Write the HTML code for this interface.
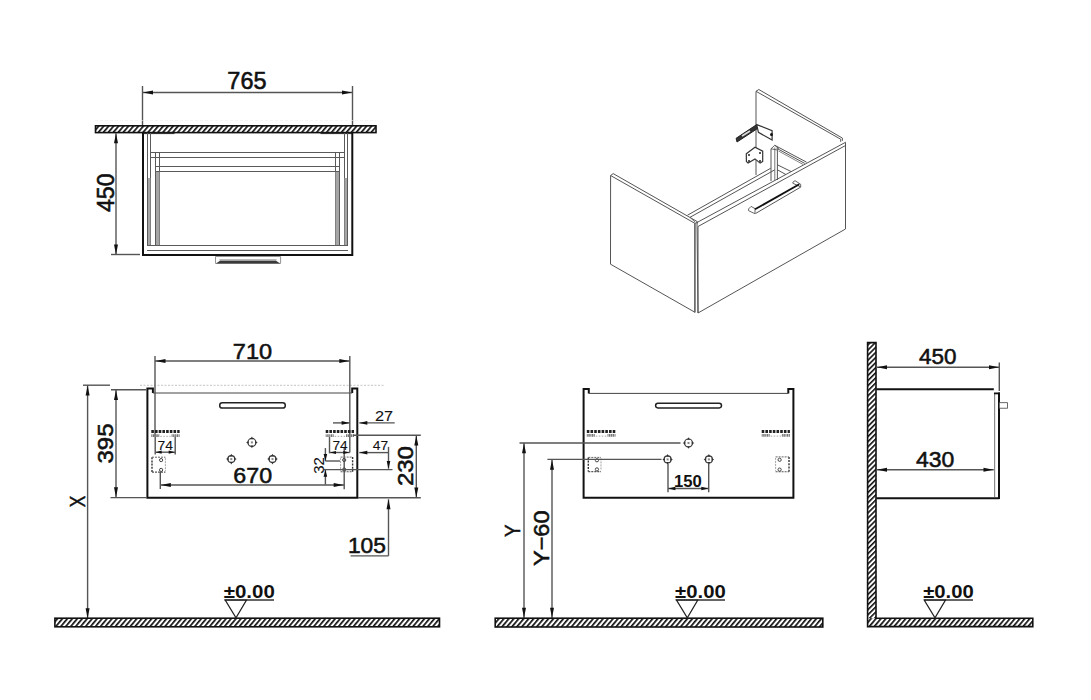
<!DOCTYPE html>
<html><head><meta charset="utf-8"><style>
html,body{margin:0;padding:0;background:#fff;width:1091px;height:700px;overflow:hidden}
svg{display:block;font-family:"Liberation Sans",sans-serif}
</style></head><body>
<svg width="1091" height="700" viewBox="0 0 1091 700">
<defs>
<pattern id="hatchH" patternUnits="userSpaceOnUse" width="3.8" height="8" patternTransform="rotate(40)">
<rect width="3.9" height="8" fill="#fff"/><rect x="0" y="0" width="1.7" height="8" fill="#111"/>
</pattern>
<pattern id="hatchV" patternUnits="userSpaceOnUse" width="3.6" height="8" patternTransform="rotate(45)">
<rect width="3.6" height="8" fill="#fff"/><rect x="0" y="0" width="1.6" height="8" fill="#111"/>
</pattern>
</defs>
<rect width="1091" height="700" fill="#fff"/>
<line x1="142.5" y1="86" x2="142.5" y2="126" stroke="#555" stroke-width="1.4" />
<line x1="352.5" y1="86" x2="352.5" y2="126" stroke="#555" stroke-width="1.4" />
<line x1="142.5" y1="92.5" x2="352.5" y2="92.5" stroke="#555" stroke-width="1.4" />
<polygon points="143,92.5 153,90.5 153,94.5" fill="#111" stroke="none"/>
<polygon points="352,92.5 342,90.5 342,94.5" fill="#111" stroke="none"/>
<text x="246.89999999999998" y="89.19999999999999" font-size="23" text-anchor="middle" font-weight="normal" fill="#111" stroke="#111" stroke-width="0.58" textLength="39.07" lengthAdjust="spacingAndGlyphs" >765</text>
<line x1="95" y1="120.5" x2="376" y2="120.5" stroke="#eee" stroke-width="0.6" stroke-dasharray="3 2"/>
<rect x="95.5" y="125.8" width="280.5" height="6.8" stroke="#111" stroke-width="1.6" fill="url(#hatchH)" />
<line x1="143.5" y1="133.5" x2="174.5" y2="133.5" stroke="#333" stroke-width="1.2" />
<line x1="320.5" y1="133.5" x2="352" y2="133.5" stroke="#333" stroke-width="1.2" />
<line x1="111" y1="254.5" x2="140" y2="254.5" stroke="#555" stroke-width="1.4" />
<line x1="116" y1="133" x2="116" y2="254.5" stroke="#555" stroke-width="1.4" />
<polygon points="116,133.2 114.0,143.2 118.0,143.2" fill="#111" stroke="none"/>
<polygon points="116,254.4 114.0,244.4 118.0,244.4" fill="#111" stroke="none"/>
<text x="113.5" y="192.75" font-size="23" text-anchor="middle" font-weight="normal" fill="#111" stroke="#111" stroke-width="0.58" transform="rotate(-90 113.5 192.75)" textLength="38.58" lengthAdjust="spacingAndGlyphs" >450</text>
<polygon points="215.5,256.5 280.6,256.5 280.6,263.4 215.5,263.4" stroke="#888" stroke-width="0.9" fill="#fff" />
<rect x="219.5" y="259" width="57" height="1.8" stroke="none" stroke-width="0" fill="#bbb" />
<polygon points="216,263.4 220,260.8 276,260.8 280.2,263.4" stroke="none" stroke-width="0" fill="#3a3a3a" />
<line x1="147.5" y1="133" x2="147.5" y2="246" stroke="#5a5a5a" stroke-width="1.0" />
<line x1="347.5" y1="133" x2="347.5" y2="246" stroke="#5a5a5a" stroke-width="1.0" />
<line x1="150.5" y1="133" x2="150.5" y2="246" stroke="#5a5a5a" stroke-width="1.0" />
<line x1="344.5" y1="133" x2="344.5" y2="246" stroke="#5a5a5a" stroke-width="1.0" />
<line x1="155.5" y1="152" x2="155.5" y2="246" stroke="#5a5a5a" stroke-width="1.0" />
<line x1="339.5" y1="152" x2="339.5" y2="246" stroke="#5a5a5a" stroke-width="1.0" />
<line x1="159.5" y1="152" x2="159.5" y2="246" stroke="#5a5a5a" stroke-width="1.0" />
<line x1="335.5" y1="152" x2="335.5" y2="246" stroke="#5a5a5a" stroke-width="1.0" />
<rect x="148" y="178" width="2.5" height="68" stroke="none" stroke-width="0" fill="#a5a5a5" />
<rect x="344.5" y="178" width="2.5" height="68" stroke="none" stroke-width="0" fill="#a5a5a5" />
<rect x="156" y="171" width="3.5" height="75" stroke="none" stroke-width="0" fill="#a5a5a5" />
<rect x="335.5" y="171" width="3.5" height="75" stroke="none" stroke-width="0" fill="#a5a5a5" />
<line x1="150.5" y1="152.5" x2="344.5" y2="152.5" stroke="#5a5a5a" stroke-width="1.1" />
<line x1="150.5" y1="157.5" x2="344.5" y2="157.5" stroke="#5a5a5a" stroke-width="1.1" />
<line x1="155.5" y1="166.5" x2="339.5" y2="166.5" stroke="#5a5a5a" stroke-width="1.1" />
<line x1="155.5" y1="171.5" x2="339.5" y2="171.5" stroke="#5a5a5a" stroke-width="1.1" />
<line x1="147" y1="245.5" x2="348" y2="245.5" stroke="#5a5a5a" stroke-width="1.1" />
<line x1="147" y1="250.5" x2="348" y2="250.5" stroke="#5a5a5a" stroke-width="1.1" />
<polyline points="143,132.5 143,255 352.3,255 352.3,132.5" stroke="#111" stroke-width="2.0" fill="none" />
<polygon points="610.6,175.5 695,223.4 695,312.3 610.5,264.2" stroke="#555" stroke-width="1.0" fill="#fff" />
<polyline points="610.6,175.5 613.2,173.6 697.4,221.7 697.4,223.4" stroke="#555" stroke-width="1.0" fill="none" />
<polyline points="756,175 756,91.3 840.7,139.2 840.7,141.8" stroke="#555" stroke-width="1.0" fill="none" />
<polyline points="756,91.3 758.8,89.5 842.4,138.1 842.4,140.8" stroke="#555" stroke-width="1.0" fill="none" />
<polyline points="687.5,215.2 770.8,168.2" stroke="#555" stroke-width="1.0" fill="none" />
<polyline points="690,217.3 774.8,169.8" stroke="#555" stroke-width="1.0" fill="none" />
<polyline points="695,222 690,217.3" stroke="#555" stroke-width="0.8" fill="none" />
<line x1="771" y1="148.8" x2="771" y2="181" stroke="#555" stroke-width="1.0" />
<line x1="774.8" y1="147.5" x2="774.8" y2="180.5" stroke="#666" stroke-width="0.9" />
<line x1="777.4" y1="150" x2="777.4" y2="180" stroke="#555" stroke-width="1.0" />
<polyline points="771,148.8 774.8,145.3 778.5,148.3 777.4,150 771,148.8" stroke="#555" stroke-width="0.9" fill="none" />
<polyline points="774.8,145.3 806.6,162.2" stroke="#555" stroke-width="1.0" fill="none" />
<polyline points="776.5,148.2 804.8,163.4" stroke="#555" stroke-width="1.0" fill="none" />
<polyline points="778.5,151 803,164.4" stroke="#666" stroke-width="0.8" fill="none" />
<polyline points="777.4,164.8 791,171.5" stroke="#555" stroke-width="1.0" fill="none" />
<polyline points="777.4,169.8 786,174.6" stroke="#555" stroke-width="1.0" fill="none" />
<polygon points="697,222.5 845.5,142.3 845.5,229 698,313" stroke="#555" stroke-width="1.0" fill="none" />
<polyline points="698,226.5 845.5,145.5" stroke="#555" stroke-width="1.0" fill="none" />
<line x1="694.8" y1="223.4" x2="694.8" y2="312.5" stroke="#555" stroke-width="1.0" />
<line x1="698" y1="226.5" x2="698" y2="313" stroke="#555" stroke-width="1.0" />
<line x1="694.8" y1="223.4" x2="697" y2="222.5" stroke="#555" stroke-width="1.0" />
<polygon points="748.6,208.9 751.1,206.4 755,208.6 755,213.6 753.2,212.9 748.6,210.7" stroke="#555" stroke-width="0.9" fill="#fff" />
<polygon points="792.9,182.1 795,180.7 800.7,184.3 800.7,187.1 798,185.6 792.9,183.3" stroke="#555" stroke-width="0.9" fill="#fff" />
<line x1="755" y1="209.3" x2="799.3" y2="184.3" stroke="#111" stroke-width="1.8" />
<line x1="755.4" y1="213.6" x2="800.7" y2="187.1" stroke="#555" stroke-width="1.0" />
<polygon points="736.1,138.3 756.7,124.6 757.5,128.5 737,142" stroke="#222" stroke-width="1.0" fill="#333" />
<line x1="742" y1="136" x2="750" y2="131" stroke="#ddd" stroke-width="1.6" />
<polygon points="756.7,124.6 772.1,130.6 772.1,140 758.4,132.3" stroke="#333" stroke-width="1.2" fill="#fff" />
<circle cx="771.5" cy="134.5" r="1.5" fill="#111"/>
<polygon points="746.3,153.7 755,147.3 762.7,151.1 762.7,161.4 760.1,163.1 755,158.9 748.1,163.1 746.4,161.4" stroke="#333" stroke-width="1.2" fill="#fff" />
<circle cx="749" cy="155" r="1" fill="#222"/>
<circle cx="760" cy="153" r="1" fill="#222"/>
<circle cx="749" cy="161" r="1" fill="#222"/>
<circle cx="760" cy="161" r="1" fill="#222"/>
<line x1="140" y1="385.3" x2="384.3" y2="385.3" stroke="#aaa" stroke-width="0.7" stroke-dasharray="2 1.5"/>
<polyline points="152.9,393 152.9,388.6 147.4,388.6 147.4,497.8 357.3,497.8 357.3,388.6 352.2,388.6 352.2,393" stroke="#111" stroke-width="2.0" fill="none" />
<line x1="152.9" y1="393" x2="352.2" y2="393" stroke="#444" stroke-width="1.0" />
<line x1="155" y1="356" x2="155" y2="436.8" stroke="#555" stroke-width="1.4" />
<line x1="349.8" y1="356" x2="349.8" y2="452.6" stroke="#555" stroke-width="1.4" />
<line x1="155" y1="361" x2="349.8" y2="361" stroke="#555" stroke-width="1.4" />
<polygon points="155.5,361 165.5,359.0 165.5,363.0" fill="#111" stroke="none"/>
<polygon points="349.3,361 339.3,359.0 339.3,363.0" fill="#111" stroke="none"/>
<text x="252.45000000000002" y="358.5" font-size="22" text-anchor="middle" font-weight="normal" fill="#111" stroke="#111" stroke-width="0.55" textLength="39.31" lengthAdjust="spacingAndGlyphs" >710</text>
<rect x="219.7" y="402.8" width="65.6" height="5.2" stroke="#222" stroke-width="1.5" fill="#fff" rx="2.6"/>
<circle cx="251.9" cy="442.4" r="4.0" stroke="#3a3a3a" stroke-width="1.2" fill="none"/>
<polygon points="257.7,442.4 255.1,440.9 255.1,443.9" fill="#333" stroke="none"/>
<polygon points="246.1,442.4 248.7,440.9 248.7,443.9" fill="#333" stroke="none"/>
<polygon points="251.9,448.2 250.4,445.59999999999997 253.4,445.59999999999997" fill="#333" stroke="none"/>
<polygon points="251.9,436.59999999999997 250.4,439.2 253.4,439.2" fill="#333" stroke="none"/>
<rect x="250.9" y="441.4" width="2" height="2" fill="#888"/>
<circle cx="231.3" cy="459.1" r="3.5" stroke="#3a3a3a" stroke-width="1.2" fill="none"/>
<polygon points="236.60000000000002,459.1 234.00000000000003,457.6 234.00000000000003,460.6" fill="#333" stroke="none"/>
<polygon points="226.0,459.1 228.6,457.6 228.6,460.6" fill="#333" stroke="none"/>
<polygon points="231.3,464.40000000000003 229.8,461.8 232.8,461.8" fill="#333" stroke="none"/>
<polygon points="231.3,453.8 229.8,456.40000000000003 232.8,456.40000000000003" fill="#333" stroke="none"/>
<rect x="230.3" y="458.1" width="2" height="2" fill="#888"/>
<circle cx="272.5" cy="459.1" r="3.5" stroke="#3a3a3a" stroke-width="1.2" fill="none"/>
<polygon points="277.8,459.1 275.2,457.6 275.2,460.6" fill="#333" stroke="none"/>
<polygon points="267.2,459.1 269.8,457.6 269.8,460.6" fill="#333" stroke="none"/>
<polygon points="272.5,464.40000000000003 271.0,461.8 274.0,461.8" fill="#333" stroke="none"/>
<polygon points="272.5,453.8 271.0,456.40000000000003 274.0,456.40000000000003" fill="#333" stroke="none"/>
<rect x="271.5" y="458.1" width="2" height="2" fill="#888"/>
<line x1="160.3" y1="472" x2="160.3" y2="489" stroke="#555" stroke-width="1.4" />
<line x1="344.2" y1="446.9" x2="344.2" y2="489.3" stroke="#555" stroke-width="1.4" />
<line x1="160.3" y1="485" x2="344.2" y2="485" stroke="#555" stroke-width="1.4" />
<polygon points="160.8,485 170.8,483.0 170.8,487.0" fill="#111" stroke="none"/>
<polygon points="343.7,485 333.7,483.0 333.7,487.0" fill="#111" stroke="none"/>
<text x="252.70000000000002" y="482.5" font-size="22" text-anchor="middle" font-weight="normal" fill="#111" stroke="#111" stroke-width="0.55" textLength="38.8" lengthAdjust="spacingAndGlyphs" >670</text>
<line x1="151.3" y1="431.6" x2="179.6" y2="431.6" stroke="#222" stroke-width="3.0" stroke-dasharray="2.6 1.1"/>
<line x1="151.3" y1="435.6" x2="159.3" y2="435.6" stroke="#777" stroke-width="2.6" stroke-dasharray="1 0.5 1.5 0.5"/>
<line x1="171.6" y1="435.6" x2="179.6" y2="435.6" stroke="#777" stroke-width="2.6" stroke-dasharray="1 0.5 1.5 0.5"/>
<line x1="160.3" y1="436.3" x2="170.6" y2="436.3" stroke="#999" stroke-width="0.9" stroke-dasharray="1.5 1.5"/>
<line x1="325.7" y1="431.6" x2="354" y2="431.6" stroke="#222" stroke-width="3.0" stroke-dasharray="2.6 1.1"/>
<line x1="325.7" y1="435.6" x2="333.7" y2="435.6" stroke="#777" stroke-width="2.6" stroke-dasharray="1 0.5 1.5 0.5"/>
<line x1="346" y1="435.6" x2="354" y2="435.6" stroke="#777" stroke-width="2.6" stroke-dasharray="1 0.5 1.5 0.5"/>
<line x1="334.7" y1="436.3" x2="345" y2="436.3" stroke="#999" stroke-width="0.9" stroke-dasharray="1.5 1.5"/>
<polyline points="155.2,437 155.2,454.5" stroke="#555" stroke-width="1.4" fill="none" />
<polyline points="175.2,437 175.2,454.5" stroke="#555" stroke-width="1.4" fill="none" />
<line x1="155.2" y1="452.2" x2="175.2" y2="452.2" stroke="#555" stroke-width="1.4" />
<text x="165.14999999999998" y="449.79999999999995" font-size="13" text-anchor="middle" font-weight="normal" fill="#111" stroke="#111" stroke-width="0.10" textLength="15.44" lengthAdjust="spacingAndGlyphs" >74</text>
<polygon points="155.7,452.2 161.7,450.59999999999997 161.7,453.8" fill="#111" stroke="none"/>
<polygon points="174.7,452.2 168.7,450.59999999999997 168.7,453.8" fill="#111" stroke="none"/>
<polyline points="329.5,437 329.5,453.3" stroke="#555" stroke-width="1.4" fill="none" />
<line x1="329.5" y1="452.5" x2="349.8" y2="452.5" stroke="#555" stroke-width="1.4" />
<text x="340.04999999999995" y="449.79999999999995" font-size="13" text-anchor="middle" font-weight="normal" fill="#111" stroke="#111" stroke-width="0.10" textLength="15.22" lengthAdjust="spacingAndGlyphs" >74</text>
<polygon points="330,452.5 336,450.9 336,454.1" fill="#111" stroke="none"/>
<polygon points="349.3,452.5 343.3,450.9 343.3,454.1" fill="#111" stroke="none"/>
<line x1="152" y1="457.2" x2="152" y2="472.1" stroke="#333" stroke-width="1.4" stroke-dasharray="2 1.2"/>
<line x1="165.4" y1="458.2" x2="165.4" y2="471.1" stroke="#999" stroke-width="0.9" stroke-dasharray="2 1"/>
<line x1="152" y1="457.2" x2="165.4" y2="457.2" stroke="#666" stroke-width="1" stroke-dasharray="2 1"/>
<line x1="152" y1="472.1" x2="165.4" y2="472.1" stroke="#555" stroke-width="1.1" stroke-dasharray="2 1"/>
<circle cx="161.112" cy="460.09999999999997" r="1.6" stroke="#444" stroke-width="1" fill="none"/>
<circle cx="161.112" cy="469.90000000000003" r="1.6" stroke="#444" stroke-width="1" fill="none"/>
<line x1="352.6" y1="457.1" x2="352.6" y2="471.7" stroke="#333" stroke-width="1.4" stroke-dasharray="2 1.2"/>
<line x1="340.6" y1="458.1" x2="340.6" y2="470.7" stroke="#999" stroke-width="0.9" stroke-dasharray="2 1"/>
<line x1="340.6" y1="457.1" x2="352.6" y2="457.1" stroke="#666" stroke-width="1" stroke-dasharray="2 1"/>
<line x1="340.6" y1="471.7" x2="352.6" y2="471.7" stroke="#555" stroke-width="1.1" stroke-dasharray="2 1"/>
<circle cx="344.20000000000005" cy="460.0" r="1.6" stroke="#444" stroke-width="1" fill="none"/>
<circle cx="344.20000000000005" cy="469.5" r="1.6" stroke="#444" stroke-width="1" fill="none"/>
<line x1="333" y1="422.9" x2="349.6" y2="422.9" stroke="#555" stroke-width="1.4" />
<polygon points="349.6,422.9 341.6,421.09999999999997 341.6,424.7" fill="#111" stroke="none"/>
<line x1="359.3" y1="422.9" x2="394.7" y2="422.9" stroke="#555" stroke-width="1.4" />
<polygon points="359.3,422.9 367.3,421.09999999999997 367.3,424.7" fill="#111" stroke="none"/>
<text x="384.1" y="420.79999999999995" font-size="14" text-anchor="middle" font-weight="normal" fill="#111" stroke="#111" stroke-width="0.10" textLength="18.14" lengthAdjust="spacingAndGlyphs" >27</text>
<line x1="353" y1="435.2" x2="420.8" y2="435.2" stroke="#555" stroke-width="1.4" />
<line x1="358" y1="497.8" x2="420.8" y2="497.8" stroke="#555" stroke-width="1.4" />
<line x1="416.3" y1="435.2" x2="416.3" y2="497.8" stroke="#555" stroke-width="1.4" />
<polygon points="416.3,435.5 414.3,445.5 418.3,445.5" fill="#111" stroke="none"/>
<polygon points="416.3,497.5 414.3,487.5 418.3,487.5" fill="#111" stroke="none"/>
<text x="413.4" y="466.04999999999995" font-size="22" text-anchor="middle" font-weight="normal" fill="#111" stroke="#111" stroke-width="0.55" transform="rotate(-90 413.4 466.04999999999995)" textLength="40.09" lengthAdjust="spacingAndGlyphs" >230</text>
<line x1="359.3" y1="452.6" x2="389" y2="452.6" stroke="#555" stroke-width="1.4" />
<polygon points="359.3,452.6 367.3,450.8 367.3,454.40000000000003" fill="#111" stroke="none"/>
<text x="380.45000000000005" y="450.0" font-size="13" text-anchor="middle" font-weight="normal" fill="#111" stroke="#111" stroke-width="0.10" textLength="15.38" lengthAdjust="spacingAndGlyphs" >47</text>
<line x1="388.5" y1="446.9" x2="388.5" y2="468.6" stroke="#555" stroke-width="1.4" />
<polygon points="388.5,469 386.7,461 390.3,461" fill="#111" stroke="none"/>
<line x1="324" y1="469.6" x2="392.5" y2="469.6" stroke="#555" stroke-width="1.4" />
<line x1="325.4" y1="461" x2="340.1" y2="461" stroke="#555" stroke-width="1.4" />
<line x1="325.4" y1="448.1" x2="325.4" y2="461" stroke="#555" stroke-width="1.4" />
<polygon points="325.4,461 323.59999999999997,454 327.2,454" fill="#111" stroke="none"/>
<line x1="325.4" y1="469.8" x2="325.4" y2="484.6" stroke="#555" stroke-width="1.4" />
<polygon points="325.4,469.8 323.59999999999997,476.8 327.2,476.8" fill="#111" stroke="none"/>
<text x="324.1" y="465.4" font-size="14" text-anchor="middle" font-weight="normal" fill="#111" stroke="#111" stroke-width="0.10" transform="rotate(-90 324.1 465.4)" textLength="16.58" lengthAdjust="spacingAndGlyphs" >32</text>
<line x1="388.5" y1="499.3" x2="388.5" y2="555.9" stroke="#555" stroke-width="1.4" />
<polygon points="388.5,499.3 386.5,509.3 390.5,509.3" fill="#111" stroke="none"/>
<line x1="350.6" y1="555.9" x2="388.5" y2="555.9" stroke="#555" stroke-width="1.4" />
<text x="366.9" y="553.3" font-size="22" text-anchor="middle" font-weight="normal" fill="#111" stroke="#111" stroke-width="0.55" textLength="38.01" lengthAdjust="spacingAndGlyphs" >105</text>
<line x1="83" y1="385.2" x2="110" y2="385.2" stroke="#555" stroke-width="1.4" />
<line x1="87.6" y1="385.2" x2="87.6" y2="618.5" stroke="#555" stroke-width="1.4" />
<polygon points="87.6,385.5 85.6,395.5 89.6,395.5" fill="#111" stroke="none"/>
<polygon points="87.6,618.2 85.6,608.2 89.6,608.2" fill="#111" stroke="none"/>
<text x="84.9" y="501.54999999999995" font-size="22" text-anchor="middle" font-weight="normal" fill="#111" stroke="#111" stroke-width="0.55" transform="rotate(-90 84.9 501.54999999999995)" textLength="11.52" lengthAdjust="spacingAndGlyphs" >X</text>
<line x1="111" y1="389.7" x2="146.5" y2="389.7" stroke="#555" stroke-width="1.4" />
<line x1="110.5" y1="497.6" x2="147" y2="497.6" stroke="#555" stroke-width="1.4" />
<line x1="116" y1="389.7" x2="116" y2="497.6" stroke="#555" stroke-width="1.4" />
<polygon points="116,390 114.0,400 118.0,400" fill="#111" stroke="none"/>
<polygon points="116,497.3 114.0,487.3 118.0,487.3" fill="#111" stroke="none"/>
<text x="113.0" y="443.5" font-size="22" text-anchor="middle" font-weight="normal" fill="#111" stroke="#111" stroke-width="0.55" transform="rotate(-90 113.0 443.5)" textLength="40.06" lengthAdjust="spacingAndGlyphs" >395</text>
<rect x="54.9" y="618.2" width="384.6" height="8.6" stroke="#111" stroke-width="1.6" fill="url(#hatchH)" />
<text x="249.25" y="597.9000000000001" font-size="17.5" text-anchor="middle" font-weight="bold" fill="#111" stroke="#111" stroke-width="0.00" textLength="51.09" lengthAdjust="spacingAndGlyphs" >±0.00</text>
<line x1="224.5" y1="600" x2="274" y2="600" stroke="#333" stroke-width="1.4" />
<polygon points="225.2,600 246.5,600 236,617.9" stroke="#222" stroke-width="1.2" fill="none" />
<polyline points="588.8,393.4 588.8,388.9 583.6,388.9 583.6,497.8 793.4,497.8 793.4,388.9 788.3,388.9 788.3,393.4" stroke="#111" stroke-width="2.0" fill="none" />
<line x1="588.8" y1="393.4" x2="788.3" y2="393.4" stroke="#444" stroke-width="1.0" />
<rect x="655.6" y="403.2" width="65.9" height="4.7" stroke="#222" stroke-width="1.5" fill="#fff" rx="2.3"/>
<circle cx="688.5" cy="443" r="4.0" stroke="#3a3a3a" stroke-width="1.2" fill="none"/>
<polygon points="694.3,443.0 691.6999999999999,441.5 691.6999999999999,444.5" fill="#333" stroke="none"/>
<polygon points="682.7,443.0 685.3000000000001,441.5 685.3000000000001,444.5" fill="#333" stroke="none"/>
<polygon points="688.5,448.8 687.0,446.2 690.0,446.2" fill="#333" stroke="none"/>
<polygon points="688.5,437.2 687.0,439.8 690.0,439.8" fill="#333" stroke="none"/>
<rect x="687.5" y="442" width="2" height="2" fill="#888"/>
<circle cx="667.6" cy="459.4" r="3.5" stroke="#3a3a3a" stroke-width="1.2" fill="none"/>
<polygon points="672.9,459.4 670.3,457.9 670.3,460.9" fill="#333" stroke="none"/>
<polygon points="662.3000000000001,459.4 664.9000000000001,457.9 664.9000000000001,460.9" fill="#333" stroke="none"/>
<polygon points="667.6,464.7 666.1,462.09999999999997 669.1,462.09999999999997" fill="#333" stroke="none"/>
<polygon points="667.6,454.09999999999997 666.1,456.7 669.1,456.7" fill="#333" stroke="none"/>
<rect x="666.6" y="458.4" width="2" height="2" fill="#888"/>
<circle cx="708.9" cy="459.4" r="3.5" stroke="#3a3a3a" stroke-width="1.2" fill="none"/>
<polygon points="714.1999999999999,459.4 711.5999999999999,457.9 711.5999999999999,460.9" fill="#333" stroke="none"/>
<polygon points="703.6,459.4 706.2,457.9 706.2,460.9" fill="#333" stroke="none"/>
<polygon points="708.9,464.7 707.4,462.09999999999997 710.4,462.09999999999997" fill="#333" stroke="none"/>
<polygon points="708.9,454.09999999999997 707.4,456.7 710.4,456.7" fill="#333" stroke="none"/>
<rect x="707.9" y="458.4" width="2" height="2" fill="#888"/>
<line x1="586.8" y1="431.40000000000003" x2="615.5" y2="431.40000000000003" stroke="#222" stroke-width="3.0" stroke-dasharray="2.6 1.1"/>
<line x1="586.8" y1="435.40000000000003" x2="594.8" y2="435.40000000000003" stroke="#777" stroke-width="2.6" stroke-dasharray="1 0.5 1.5 0.5"/>
<line x1="607.5" y1="435.40000000000003" x2="615.5" y2="435.40000000000003" stroke="#777" stroke-width="2.6" stroke-dasharray="1 0.5 1.5 0.5"/>
<line x1="595.8" y1="436.1" x2="606.5" y2="436.1" stroke="#999" stroke-width="0.9" stroke-dasharray="1.5 1.5"/>
<line x1="761.7" y1="431.40000000000003" x2="789.9" y2="431.40000000000003" stroke="#222" stroke-width="3.0" stroke-dasharray="2.6 1.1"/>
<line x1="761.7" y1="435.40000000000003" x2="769.7" y2="435.40000000000003" stroke="#777" stroke-width="2.6" stroke-dasharray="1 0.5 1.5 0.5"/>
<line x1="781.9" y1="435.40000000000003" x2="789.9" y2="435.40000000000003" stroke="#777" stroke-width="2.6" stroke-dasharray="1 0.5 1.5 0.5"/>
<line x1="770.7" y1="436.1" x2="780.9" y2="436.1" stroke="#999" stroke-width="0.9" stroke-dasharray="1.5 1.5"/>
<line x1="588.3" y1="457.4" x2="588.3" y2="471.6" stroke="#333" stroke-width="1.4" stroke-dasharray="2 1.2"/>
<line x1="601" y1="458.4" x2="601" y2="470.6" stroke="#999" stroke-width="0.9" stroke-dasharray="2 1"/>
<line x1="588.3" y1="457.4" x2="601" y2="457.4" stroke="#666" stroke-width="1" stroke-dasharray="2 1"/>
<line x1="588.3" y1="471.6" x2="601" y2="471.6" stroke="#555" stroke-width="1.1" stroke-dasharray="2 1"/>
<circle cx="596.936" cy="460.29999999999995" r="1.6" stroke="#444" stroke-width="1" fill="none"/>
<circle cx="596.936" cy="469.40000000000003" r="1.6" stroke="#444" stroke-width="1" fill="none"/>
<line x1="789" y1="456.9" x2="789" y2="471.8" stroke="#333" stroke-width="1.4" stroke-dasharray="2 1.2"/>
<line x1="775.6" y1="457.9" x2="775.6" y2="470.8" stroke="#999" stroke-width="0.9" stroke-dasharray="2 1"/>
<line x1="775.6" y1="456.9" x2="789" y2="456.9" stroke="#666" stroke-width="1" stroke-dasharray="2 1"/>
<line x1="775.6" y1="471.8" x2="789" y2="471.8" stroke="#555" stroke-width="1.1" stroke-dasharray="2 1"/>
<circle cx="779.62" cy="459.79999999999995" r="1.6" stroke="#444" stroke-width="1" fill="none"/>
<circle cx="779.62" cy="469.6" r="1.6" stroke="#444" stroke-width="1" fill="none"/>
<line x1="519.5" y1="443" x2="680.5" y2="443" stroke="#555" stroke-width="1.4" />
<line x1="524" y1="443" x2="524" y2="618" stroke="#555" stroke-width="1.4" />
<polygon points="524,443.3 522.0,453.3 526.0,453.3" fill="#111" stroke="none"/>
<polygon points="524,617.7 522.0,607.7 526.0,607.7" fill="#111" stroke="none"/>
<line x1="547.4" y1="459.4" x2="661.5" y2="459.4" stroke="#555" stroke-width="1.4" />
<line x1="552" y1="459.4" x2="552" y2="618" stroke="#555" stroke-width="1.4" />
<polygon points="552,459.7 550.0,469.7 554.0,469.7" fill="#111" stroke="none"/>
<polygon points="552,617.7 550.0,607.7 554.0,607.7" fill="#111" stroke="none"/>
<line x1="668" y1="464" x2="668" y2="492.3" stroke="#555" stroke-width="1.4" />
<line x1="708.7" y1="464" x2="708.7" y2="492.3" stroke="#555" stroke-width="1.4" />
<line x1="668" y1="488.5" x2="708.7" y2="488.5" stroke="#555" stroke-width="1.4" />
<polygon points="668.4,488.5 675.4,486.7 675.4,490.3" fill="#111" stroke="none"/>
<polygon points="708.3,488.5 701.3,486.7 701.3,490.3" fill="#111" stroke="none"/>
<text x="687.9000000000001" y="487.0" font-size="17" text-anchor="middle" font-weight="bold" fill="#111" stroke="#111" stroke-width="0.00" textLength="27.81" lengthAdjust="spacingAndGlyphs" >150</text>
<text x="520.0" y="530.75" font-size="22" text-anchor="middle" font-weight="normal" fill="#111" stroke="#111" stroke-width="0.55" transform="rotate(-90 520.0 530.75)" textLength="12.47" lengthAdjust="spacingAndGlyphs" >Y</text>
<text x="549.0" y="538.25" font-size="22" text-anchor="middle" font-weight="normal" fill="#111" stroke="#111" stroke-width="0.55" transform="rotate(-90 549.0 538.25)" textLength="55.49" lengthAdjust="spacingAndGlyphs" >Y−60</text>
<rect x="495.2" y="618.2" width="327.6" height="8.8" stroke="#111" stroke-width="1.6" fill="url(#hatchH)" />
<text x="700.45" y="597.9000000000001" font-size="17.5" text-anchor="middle" font-weight="bold" fill="#111" stroke="#111" stroke-width="0.00" textLength="50.68" lengthAdjust="spacingAndGlyphs" >±0.00</text>
<line x1="675.7" y1="600" x2="725" y2="600" stroke="#333" stroke-width="1.4" />
<polygon points="676.5,600 697.8,600 687.3,617.9" stroke="#222" stroke-width="1.2" fill="none" />
<rect x="867.6" y="342.6" width="8.4" height="280" stroke="none" stroke-width="0" fill="url(#hatchV)" />
<rect x="867.6" y="618.2" width="165.2" height="8.4" stroke="none" stroke-width="0" fill="url(#hatchH)" />
<polygon points="867.6,342.6 876,342.6 876,618.2 1032.8,618.2 1032.8,626.6 867.6,626.6" stroke="#111" stroke-width="1.6" fill="none" />
<line x1="876.3" y1="389.2" x2="993.8" y2="389.2" stroke="#111" stroke-width="2.0" />
<line x1="876.3" y1="498.2" x2="999.3" y2="498.2" stroke="#111" stroke-width="2.0" />
<line x1="994.6" y1="394" x2="994.6" y2="497" stroke="#8a8a8a" stroke-width="1.2" />
<line x1="999" y1="392.5" x2="999" y2="499" stroke="#111" stroke-width="2.0" />
<line x1="994" y1="393.4" x2="1000" y2="393.4" stroke="#111" stroke-width="1.8" />
<rect x="999.3" y="402.7" width="8.1" height="5.5" stroke="#444" stroke-width="0.8" fill="#fff" />
<line x1="876.3" y1="367.2" x2="999.3" y2="367.2" stroke="#555" stroke-width="1.4" />
<polygon points="877,367.2 887,365.2 887,369.2" fill="#111" stroke="none"/>
<polygon points="999,367.2 989,365.2 989,369.2" fill="#111" stroke="none"/>
<line x1="999.3" y1="362.6" x2="999.3" y2="391" stroke="#555" stroke-width="1.4" />
<text x="937.6500000000001" y="363.6" font-size="22" text-anchor="middle" font-weight="normal" fill="#111" stroke="#111" stroke-width="0.55" textLength="37.47" lengthAdjust="spacingAndGlyphs" >450</text>
<line x1="876.3" y1="469.8" x2="993.8" y2="469.8" stroke="#555" stroke-width="1.4" />
<polygon points="877,469.8 887,467.8 887,471.8" fill="#111" stroke="none"/>
<polygon points="993.5,469.8 983.5,467.8 983.5,471.8" fill="#111" stroke="none"/>
<text x="935.2" y="467.1" font-size="22" text-anchor="middle" font-weight="normal" fill="#111" stroke="#111" stroke-width="0.55" textLength="38.38" lengthAdjust="spacingAndGlyphs" >430</text>
<text x="948.5" y="597.9000000000001" font-size="17.5" text-anchor="middle" font-weight="bold" fill="#111" stroke="#111" stroke-width="0.00" textLength="50.58" lengthAdjust="spacingAndGlyphs" >±0.00</text>
<line x1="924" y1="600" x2="973" y2="600" stroke="#333" stroke-width="1.4" />
<polygon points="924.2,600 945.5,600 935,617.9" stroke="#222" stroke-width="1.2" fill="none" />
</svg>
</body></html>
